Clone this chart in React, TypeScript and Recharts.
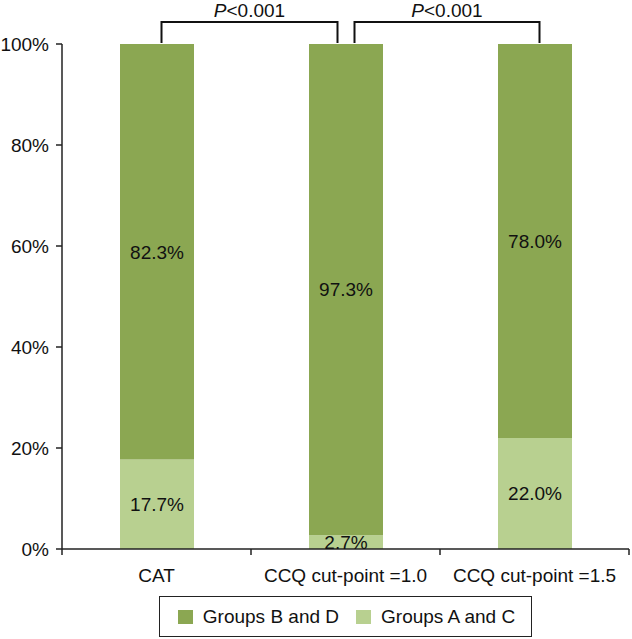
import { BarChart, Bar, XAxis, YAxis, Legend, LabelList, ReferenceLine } from 'recharts';

const categories = ['CAT', 'CCQ cut-point =1.0', 'CCQ cut-point =1.5'];
const groupsBD = [82.3, 97.3, 78.0];
const groupsAC = [17.7, 2.7, 22.0];
const yTicks = [0, 20, 40, 60, 80, 100];

// pairwise comparisons drawn as brackets above the bars
const comparisonFrom = ['CAT', 'CCQ cut-point =1.0'];
const comparisonTo = ['CCQ cut-point =1.0', 'CCQ cut-point =1.5'];
const comparisonP = ['0.001', '0.001'];

const DARK = '#8ba752';
const LIGHT = '#b8d090';
const FONT = '"Liberation Sans", Arial, sans-serif';

const chartData = categories.map((name, i) => ({
  name,
  bd: groupsBD[i],
  ac: groupsAC[i],
}));

// small horizontal nudges for the bracket legs so they don't meet on the middle bar
const legNudge = [
  [5, -8],
  [9, 5],
];

const makeBracket = (idx: number) => (props: any) => {
  const { x1, y1, x2 } = props;
  const a = x1 + legNudge[idx][0];
  const b = x2 + legNudge[idx][1];
  const top = y1 - 22;
  return (
    <g>
      <path
        d={`M${a},${y1 - 1} V${top} H${b} V${y1 - 1}`}
        fill="none"
        stroke="#111"
        strokeWidth={2}
      />
      <text
        x={(a + b) / 2}
        y={top - 5}
        textAnchor="middle"
        fontSize={19}
        fontFamily={FONT}
        fill="#111"
      >
        <tspan fontStyle="italic">P</tspan>
        {'<' + comparisonP[idx]}
      </text>
    </g>
  );
};

const CategoryTick = (props: any) => {
  const { x, y, payload } = props;
  const half = payload.offset ?? 94;
  return (
    <g>
      <line x1={x + half} y1={y} x2={x + half} y2={y + 6} stroke="#222" strokeWidth={1.5} />
      {payload.index === 0 && (
        <line x1={x - half} y1={y} x2={x - half} y2={y + 6} stroke="#222" strokeWidth={1.5} />
      )}
      <text x={x} y={y + 33} textAnchor="middle" fontSize={19} fontFamily={FONT} fill="#111">
        {payload.value}
      </text>
    </g>
  );
};

const LegendBox = (props: any) => {
  const items = [...(props.payload || [])].reverse();
  return (
    <div style={{ display: 'flex', justifyContent: 'center' }}>
      <div
        style={{
          display: 'flex',
          alignItems: 'center',
          border: '1.5px solid #222',
          height: 39,
          padding: '0 16px 0 18px',
          fontFamily: FONT,
          fontSize: 19,
          color: '#111',
        }}
      >
        {items.map((item: any, i: number) => (
          <div key={i} style={{ display: 'flex', alignItems: 'center', marginLeft: i === 0 ? 0 : 17 }}>
            <span style={{ width: 15, height: 14, background: item.color, display: 'inline-block', marginRight: 10 }} />
            <span>{item.value}</span>
          </div>
        ))}
      </div>
    </div>
  );
};

export default function App() {
  return (
    <div style={{ position: 'absolute', left: 0, top: 0, width: 632, height: 639, background: '#fff' }}>
      <BarChart
        width={632}
        height={639}
        data={chartData}
        margin={{ top: 44, right: 3, left: 0, bottom: 4 }}
        barSize={74}
      >
        <XAxis
          dataKey="name"
          axisLine={{ stroke: '#222', strokeWidth: 1.5 }}
          tickLine={false}
          tickSize={0}
          tickMargin={0}
          height={45}
          interval={0}
          tick={<CategoryTick />}
        />
        <YAxis
          width={62}
          domain={[0, 100]}
          ticks={yTicks}
          tickFormatter={(v: number) => `${v}%`}
          axisLine={{ stroke: '#222', strokeWidth: 1.5 }}
          tickLine={{ stroke: '#222', strokeWidth: 1.5 }}
          tickSize={6}
          tickMargin={7}
          tick={{ fill: '#111', fontSize: 19, fontFamily: FONT }}
        />
        <Legend
          verticalAlign="bottom"
          content={<LegendBox />}
          wrapperStyle={{ bottom: 2, left: 62, width: 567 }}
        />
        <Bar dataKey="ac" name="Groups A and C" stackId="s" fill={LIGHT} isAnimationActive={false}>
          <LabelList
            dataKey="ac"
            position="center"
            formatter={(v: any) => `${Number(v).toFixed(1)}%`}
            fill="#111"
            fontSize={19}
            fontFamily={FONT}
          />
        </Bar>
        <Bar dataKey="bd" name="Groups B and D" stackId="s" fill={DARK} isAnimationActive={false}>
          <LabelList
            dataKey="bd"
            position="center"
            formatter={(v: any) => `${Number(v).toFixed(1)}%`}
            fill="#111"
            fontSize={19}
            fontFamily={FONT}
          />
        </Bar>
        {comparisonFrom.map((from, i) => (
          <ReferenceLine
            key={from}
            segment={[
              { x: from, y: 100 },
              { x: comparisonTo[i], y: 100 },
            ]}
            ifOverflow="visible"
            shape={makeBracket(i)}
          />
        ))}
      </BarChart>
    </div>
  );
}
